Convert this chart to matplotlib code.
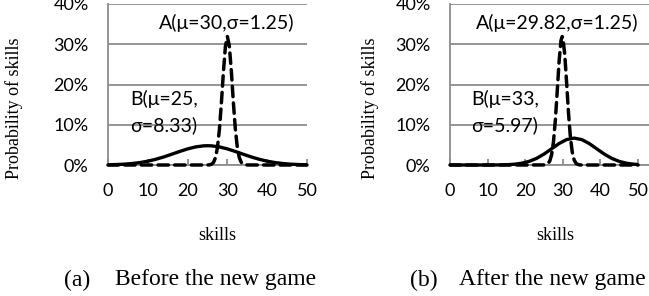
import matplotlib
matplotlib.use("Agg")
import matplotlib.pyplot as plt
from matplotlib.ticker import PercentFormatter

# skill values (x) and probability in percent (y)
# (a) before the new game
b_before_x = [0, 2, 4, 6, 8, 10, 12, 14, 16, 18, 20, 22, 24, 25, 26, 28,
              30, 32, 34, 36, 38, 40, 42, 44, 46, 48, 50]
b_before_y = [0.05, 0.11, 0.20, 0.36, 0.60, 0.95, 1.42, 2.00, 2.67, 3.36,
              4.00, 4.49, 4.76, 4.79, 4.76, 4.49, 4.00, 3.36, 2.67, 2.00,
              1.42, 0.95, 0.60, 0.36, 0.20, 0.11, 0.05]
a_before_x = [0, 10, 20, 25, 25.5, 26, 26.5, 27, 27.5, 28, 28.5, 29, 29.5,
              30, 30.5, 31, 31.5, 32, 32.5, 33, 33.5, 34, 34.5, 35, 40, 50]
a_before_y = [0, 0, 0, 0.01, 0.05, 0.19, 0.63, 1.79, 4.32, 8.87, 15.54,
              23.17, 29.46, 31.92, 29.46, 23.17, 15.54, 8.87, 4.32, 1.79,
              0.63, 0.19, 0.05, 0.01, 0, 0]

# (b) after the new game
b_after_x = [0, 1, 3, 5, 7, 9, 11, 13, 15, 17, 19, 21, 23, 25, 27, 29, 31,
             33, 35, 37, 39, 41, 43, 45, 47, 49, 50]
b_after_y = [0, 0, 0, 0, 0, 0.002, 0.008, 0.02, 0.07, 0.18, 0.43, 0.89,
             1.64, 2.72, 4.03, 5.34, 6.32, 6.68, 6.32, 5.34, 4.03, 2.72,
             1.64, 0.89, 0.43, 0.18, 0.12]
a_after_x = [0, 10, 20, 25, 25.5, 26, 26.5, 27, 27.5, 28, 28.5, 29, 29.5,
             29.82, 30, 30.5, 31, 31.5, 32, 32.5, 33, 33.5, 34, 34.5, 35,
             40, 50]
a_after_y = [0, 0, 0, 0.02, 0.08, 0.30, 0.94, 2.50, 5.70, 11.06, 18.27,
             25.74, 30.89, 31.92, 31.59, 27.53, 20.44, 12.94, 6.97, 3.20,
             1.25, 0.42, 0.12, 0.03, 0, 0, 0]

panels = [
    ("(a)", "Before the new game", b_before_x, b_before_y, a_before_x,
     a_before_y, "A(μ=30,σ=1.25)", "B(μ=25,", "σ=8.33)"),
    ("(b)", "After the new game", b_after_x, b_after_y, a_after_x,
     a_after_y, "A(μ=29.82,σ=1.25)", "B(μ=33,", "σ=5.97)"),
]

SANS = ["Lato", "DejaVu Sans"]
SERIF = ["Liberation Serif", "DejaVu Serif"]
GRID = "#8c8c8c"

fig = plt.figure(figsize=(6.49, 2.96), dpi=100)

# axes boxes in pixels: left, width, x upper limit
boxes = [(108, 199, 50.0), (450, 199, 52.9)]
label_pos = [
    dict(ylab=14, skills=217, tag=64, cap=115, ax_=12.8, bx=5.5),
    dict(ylab=370, skills=555, tag=410, cap=459, ax_=6.8, bx=5.7),
]

for (tag, cap, bx, by, ax_x, ax_y, a_txt, b1, b2), (left, width, xmax), lp in zip(
        panels, boxes, label_pos):
    ax = fig.add_axes([left / 649, 131 / 296, width / 649, 161 / 296])
    ax.plot(bx, by, color="black", linewidth=2.4, clip_on=False,
            solid_capstyle="butt", zorder=4)
    ax.plot(ax_x, ax_y, color="black", linewidth=2.5, clip_on=False,
            linestyle=(0, (3.0, 1.8)), dash_capstyle="round", zorder=5)

    ax.set_xlim(0, xmax)
    ax.set_ylim(0, 40)
    ax.set_xticks([0, 10, 20, 30, 40, 50])
    ax.set_yticks([0, 10, 20, 30, 40])
    ax.yaxis.set_major_formatter(PercentFormatter(decimals=0))
    ax.grid(axis="y", color=GRID, linewidth=1.3)
    ax.set_axisbelow(True)
    for s in ["top", "right"]:
        ax.spines[s].set_visible(False)
    for s in ["left", "bottom"]:
        ax.spines[s].set_color(GRID)
        ax.spines[s].set_linewidth(1.3)
    ax.tick_params(axis="x", direction="in", length=4, color=GRID,
                   width=1.3, pad=13)
    ax.tick_params(axis="y", length=0, pad=14)
    for t in ax.get_xticklabels() + ax.get_yticklabels():
        t.set_family(SANS)
        t.set_fontsize(13)

    ax.text(lp["ax_"], 35.2, a_txt, family=SANS, fontsize=14, va="center",
            ha="left")
    ax.text(lp["bx"], 16.5, b1, family=SANS, fontsize=14, va="center",
            ha="left")
    ax.text(lp["bx"], 10.0, b2, family=SANS, fontsize=14, va="center",
            ha="left")

    fig.text(lp["ylab"] / 649, 1 - 108 / 296, "Probability of skills",
             family=SERIF, fontsize=13, rotation=90, ha="center",
             va="center")
    fig.text(lp["skills"] / 649, 1 - 236 / 296, "skills", family=SERIF,
             fontsize=13, ha="center", va="center")
    fig.text(lp["tag"] / 649, 1 - 280 / 296, tag, family=SERIF, fontsize=17,
             ha="left", va="center")
    fig.text(lp["cap"] / 649, 1 - 280 / 296, cap, family=SERIF, fontsize=17,
             ha="left", va="center")

fig.savefig("out.png", dpi=100)
